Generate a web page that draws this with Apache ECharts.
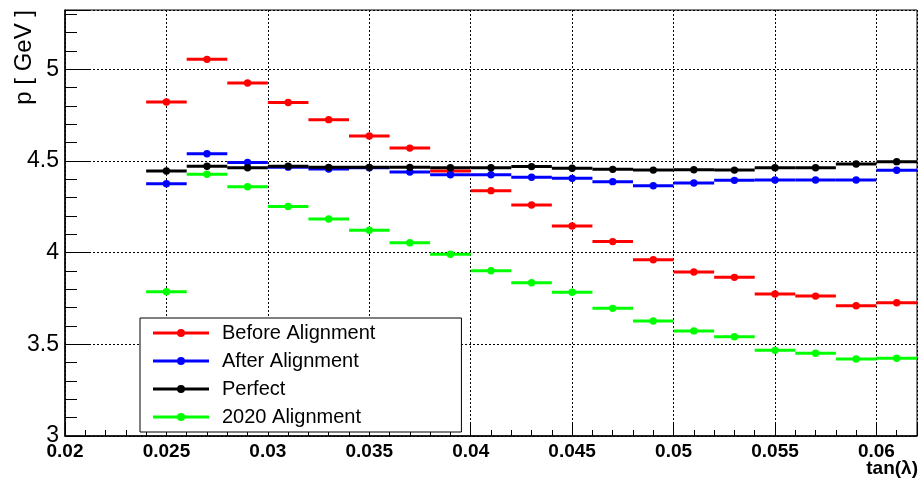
<!DOCTYPE html>
<html>
<head>
<meta charset="utf-8">
<script src="https://cdn.jsdelivr.net/npm/echarts@6/dist/echarts.min.js"></script>
<style>html,body{margin:0;padding:0;background:#fff;}#c{width:918px;height:479px;}</style>
</head>
<body>
<div id="c"></div>
<script>
// ---- data ----
const binCenters = [0.025, 0.027, 0.029, 0.031, 0.033, 0.035, 0.037, 0.039, 0.041, 0.043,
                    0.045, 0.047, 0.049, 0.051, 0.053, 0.055, 0.057, 0.059, 0.061];
const binWidth = 0.002;
const beforeAlignment = [4.821, 5.054, 4.925, 4.819, 4.725, 4.636, 4.570, 4.445, 4.338, 4.260,
                         4.145, 4.060, 3.961, 3.894, 3.865, 3.774, 3.763, 3.710, 3.727];
const afterAlignment  = [4.376, 4.539, 4.492, 4.466, 4.456, 4.463, 4.440, 4.425, 4.425, 4.411,
                         4.405, 4.387, 4.365, 4.380, 4.394, 4.396, 4.396, 4.396, 4.449];
const perfect         = [4.445, 4.471, 4.463, 4.471, 4.465, 4.465, 4.465, 4.463, 4.463, 4.469,
                         4.460, 4.454, 4.450, 4.452, 4.450, 4.463, 4.463, 4.483, 4.496];
const alignment2020   = [3.787, 4.427, 4.359, 4.252, 4.183, 4.122, 4.054, 3.991, 3.901, 3.836,
                         3.784, 3.696, 3.627, 3.573, 3.541, 3.467, 3.451, 3.420, 3.424];
const seriesNames = ['Before Alignment', 'After Alignment', 'Perfect', '2020 Alignment'];
const xTickLabels = ['0.02', '0.025', '0.03', '0.035', '0.04', '0.045', '0.05', '0.055', '0.06'];
const yTickLabels = ['3', '3.5', '4', '4.5', '5'];

// ---- chart ----
const colors = ['#ff0000', '#0000ff', '#000000', '#00ff00'];
const allValues = [beforeAlignment, afterAlignment, perfect, alignment2020];
const FONT = 'Liberation Sans, Arial, Helvetica, sans-serif';
const X_MIN = 0.02, X_MAX = 0.062, Y_MIN = 3, Y_MAX = 5.323;

function makeRender(color) {
  return function (params, api) {
    const x = api.value(0), y = api.value(1);
    const lo = Math.max(X_MIN, x - binWidth / 2), hi = Math.min(X_MAX, x + binWidth / 2);
    const p1 = api.coord([lo, y]), p2 = api.coord([hi, y]), c = api.coord([x, y]);
    return {
      type: 'group',
      children: [
        { type: 'line', shape: { x1: p1[0], y1: p1[1], x2: p2[0], y2: p2[1] },
          style: { stroke: color, lineWidth: 3 } },
        { type: 'circle', shape: { cx: c[0], cy: c[1], r: 3.7 }, style: { fill: color } }
      ]
    };
  };
}

const series = allValues.map((vals, i) => ({
  name: seriesNames[i],
  type: 'custom',
  renderItem: makeRender(colors[i]),
  itemStyle: { color: colors[i] },
  data: binCenters.map((x, j) => [x, vals[j]]),
  encode: { x: 0, y: 1 },
  z: 2 + i
}));

const legendIcon = 'path://M0,3.5 L56,3.5 L56,6.5 L0,6.5 Z M24,5 A4,4 0 1,1 32,5 A4,4 0 1,1 24,5 Z';

const option = {
  animation: false,
  backgroundColor: '#ffffff',
  grid: { left: 65, right: 1, top: 10, bottom: 43, show: true, borderColor: '#000', borderWidth: 1 },
  xAxis: {
    type: 'value', min: X_MIN, max: X_MAX, interval: 0.005,
    axisLine: { show: true, onZero: false, lineStyle: { color: '#000', width: 1.5 } },
    axisTick: { show: true, inside: true, length: 13, lineStyle: { color: '#000', width: 1 } },
    minorTick: { show: true, splitNumber: 5, length: 6, lineStyle: { color: '#000', width: 1 } },
    splitLine: { show: true, lineStyle: { color: '#000', width: 1, type: [2, 2] } },
    axisLabel: {
      showMaxLabel: false, margin: 6, color: '#000', fontFamily: FONT, fontWeight: 'bold', fontSize: 19,
      formatter: function (v) {
        const idx = Math.round((v - X_MIN) / 0.005);
        return xTickLabels[idx] !== undefined ? xTickLabels[idx] : '';
      }
    }
  },
  yAxis: {
    type: 'value', min: Y_MIN, max: Y_MAX, interval: 0.5,
    axisLine: { show: true, onZero: false, lineStyle: { color: '#000', width: 1.5 } },
    axisTick: { show: true, inside: true, length: 25, lineStyle: { color: '#000', width: 1 } },
    minorTick: { show: true, splitNumber: 5, length: 12, lineStyle: { color: '#000', width: 1 } },
    splitLine: { show: true, lineStyle: { color: '#000', width: 1, type: [2, 2] } },
    axisLabel: {
      showMaxLabel: false, margin: 6, color: '#000', fontFamily: FONT, fontSize: 23,
      formatter: function (v) {
        const idx = Math.round((v - Y_MIN) / 0.5);
        return yTickLabels[idx] !== undefined ? yTickLabels[idx] : '';
      }
    }
  },
  legend: {
    orient: 'vertical', left: 140, top: 318,
    padding: [5, 86, 5, 13], itemGap: 8, itemWidth: 56, itemHeight: 8,
    backgroundColor: '#fff', borderColor: '#000', borderWidth: 1,
    textStyle: { color: '#000', fontFamily: FONT, fontSize: 20, padding: [0, 0, 0, 8] },
    data: seriesNames.map((n, i) => ({ name: n, icon: legendIcon, itemStyle: { color: colors[i] } })),
    selectedMode: false
  },
  graphic: [
    { type: 'text', x: 24, y: 10, rotation: Math.PI / 2,
      style: { text: 'p [ GeV ]', fill: '#000', font: '24px ' + FONT, align: 'right', verticalAlign: 'middle' } },
    { type: 'text', x: 918, y: 469,
      style: { text: 'tan(λ)', fill: '#000', font: 'bold 19px ' + FONT, align: 'right', verticalAlign: 'middle' } }
  ],
  series: series
};

const chart = echarts.init(document.getElementById('c'), null, { renderer: 'canvas' });
chart.setOption(option);
</script>
</body>
</html>
